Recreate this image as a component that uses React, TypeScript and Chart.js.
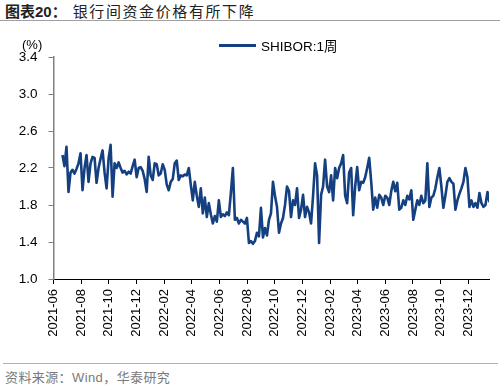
import React, { useEffect, useRef } from "react";
import { Chart, registerables } from "chart.js";

Chart.register(...registerables);

// x-axis tick labels (every two months)
const tickLabels = [
  "2021-06", "2021-08", "2021-10", "2021-12", "2022-02", "2022-04", "2022-06", "2022-08",
  "2022-10", "2022-12", "2023-02", "2023-04", "2023-06", "2023-08", "2023-10", "2023-12",
];
const yTicks = [1.0, 1.4, 1.8, 2.2, 2.6, 3.0, 3.4];

// observation dates: months after 2021-06-01 of the first value, and spacing in months
const firstObsMonth = 0.65;
const obsStepMonth = 0.145;

// SHIBOR 1-week (%)
const shibor1w = [
  2.34, 2.22, 2.43, 1.94, 2.15, 2.18, 2.14, 2.19, 2.25, 2.36,
  1.96, 2.2, 2.34, 2.05, 2.25, 2.32, 2.31, 2.04, 2.2, 2.3,
  2.39, 2.15, 1.98, 2.3, 2.45, 1.89, 2.25, 2.2, 2.26, 2.2,
  2.15, 2.17, 2.13, 2.16, 2.14, 2.22, 2.29, 2.1, 2.2, 2.21,
  2.17, 2.08, 1.94, 2.32, 2.12, 2.07, 2.25, 2.24, 2.12, 2.14,
  2.24, 2.18, 2.02, 1.96, 2.05, 2.08, 2.25, 2.28, 2.07, 2.12,
  2.11, 2.13, 2.12, 2.2, 2.02, 1.85, 2.05, 1.9, 1.78, 1.98,
  1.71, 1.88, 1.67, 1.82, 1.7, 1.6, 1.68, 1.62, 1.85, 1.67,
  1.7, 1.68, 1.72, 1.69, 1.93, 2.2, 1.64, 1.66, 1.6, 1.64,
  1.62, 1.6, 1.66, 1.39, 1.41, 1.38, 1.41, 1.5, 1.46, 1.77,
  1.45, 1.55, 1.47, 1.64, 1.71, 2.05, 1.9, 1.78, 1.5, 1.6,
  1.66, 1.8, 2.0, 1.95, 1.67, 1.85, 1.8, 1.98, 1.66, 1.75,
  1.91, 1.67, 1.78, 1.72, 1.6, 1.9, 2.25, 2.12, 1.39, 1.91,
  2.0, 2.29, 2.0, 1.94, 2.12, 1.85, 2.2, 2.09, 2.2, 2.25,
  2.34, 1.9, 1.82, 2.15, 2.2, 1.69, 2.0, 2.21, 1.96, 2.05,
  2.04, 2.1, 2.2, 2.31, 2.05, 1.75, 1.88, 1.77, 1.91, 1.88,
  1.8, 1.9, 1.88, 1.8, 1.95, 2.05, 1.95, 2.04, 1.75, 1.77,
  1.85, 1.8, 1.9, 1.86, 1.96, 1.64, 1.75, 1.85, 1.8, 1.9,
  1.82, 1.85, 2.25, 1.78, 1.88, 1.9, 1.98, 2.1, 2.2, 2.0,
  1.77, 1.9, 2.05, 2.09, 2.05, 2.03, 1.75, 1.85, 1.92, 1.98,
  2.05, 2.2, 2.1, 1.78, 1.85, 1.78, 1.82, 1.77, 1.93, 1.82,
  1.78, 1.8, 1.94, 1.83,
];

const seriesName = "SHIBOR:1周";
const lineColor = "#143F80";
const latin = "'Liberation Sans', Arial, sans-serif";
const cjk = "'Noto Sans CJK SC', 'Liberation Sans', sans-serif";

export default function App() {
  const ref = useRef<HTMLCanvasElement>(null);

  useEffect(() => {
    if (!ref.current) return;
    const points = shibor1w.map((v, i) => ({ x: firstObsMonth + i * obsStepMonth, y: v }));
    const chart = new Chart(ref.current, {
      type: "line",
      data: {
        datasets: [
          {
            label: seriesName,
            data: points,
            borderColor: lineColor,
            backgroundColor: lineColor,
            borderWidth: 2.6,
            pointRadius: 0,
            tension: 0,
            borderJoinStyle: "round",
          },
        ],
      },
      options: {
        animation: false,
        responsive: false,
        layout: { padding: { top: 57, left: 8, right: 11, bottom: 0 } },
        plugins: { legend: { display: false }, tooltip: { enabled: false } },
        scales: {
          x: {
            type: "linear",
            min: 0,
            max: 31.5,
            afterBuildTicks: (s: any) => {
              s.ticks = tickLabels.map((_, i) => ({ value: i * 2 }));
            },
            afterFit: (s: any) => {
              s.height = 81;
            },
            ticks: {
              autoSkip: false,
              minRotation: 90,
              maxRotation: 90,
              padding: 5,
              color: "#000",
              font: { family: latin, size: 13 },
              callback: (v: any) => tickLabels[Math.round(Number(v) / 2)] ?? "",
            },
            grid: { drawOnChartArea: false, drawTicks: true, tickLength: 5, color: "#000" },
            border: { color: "#000", width: 1 },
          },
          y: {
            min: 1.0,
            max: 3.4,
            afterBuildTicks: (s: any) => {
              s.ticks = yTicks.map((v) => ({ value: v }));
            },
            afterFit: (s: any) => {
              s.width = 45.5;
            },
            ticks: {
              padding: 11,
              color: "#000",
              font: { family: latin, size: 13.5 },
              callback: (v: any) => Number(v).toFixed(1),
            },
            grid: { drawOnChartArea: false, drawTicks: true, tickLength: 5, color: "#808080" },
            border: { color: "#808080", width: 1.5 },
          },
        },
      },
    });
    return () => chart.destroy();
  }, []);

  return (
    <div
      style={{
        position: "absolute",
        left: 0,
        top: 0,
        width: 500,
        height: 387,
        background: "#fff",
        overflow: "hidden",
      }}
    >
      <div
        style={{
          position: "absolute",
          left: 5,
          top: 1,
          fontSize: 15,
          lineHeight: "20px",
          color: "#222",
          fontFamily: cjk,
          whiteSpace: "nowrap",
        }}
      >
        <span style={{ fontWeight: 700 }}>
          图表<span style={{ fontFamily: latin }}>20</span>：
        </span>
        <span style={{ letterSpacing: 1.6, marginLeft: 6 }}>银行间资金价格有所下降</span>
      </div>
      <div style={{ position: "absolute", left: 0, top: 20, width: 500, height: 1, background: "#A0A0A0" }} />
      <canvas ref={ref} width={500} height={360} style={{ position: "absolute", left: 0, top: 0 }} />
      <div
        style={{
          position: "absolute",
          left: 22,
          top: 37,
          fontFamily: latin,
          fontSize: 13,
          lineHeight: "16px",
          color: "#000",
        }}
      >
        (%)
      </div>
      <div style={{ position: "absolute", left: 219, top: 44, width: 37, height: 2.6, background: lineColor }} />
      <div
        style={{
          position: "absolute",
          left: 261,
          top: 37,
          fontFamily: latin,
          fontSize: 13.5,
          lineHeight: "16px",
          color: "#000",
          whiteSpace: "nowrap",
        }}
      >
        SHIBOR:1<span style={{ fontFamily: cjk }}>周</span>
      </div>
      <div style={{ position: "absolute", left: 3, top: 363, width: 495, height: 1, background: "#A9B4C0" }} />
      <div
        style={{
          position: "absolute",
          left: 5,
          top: 368,
          fontFamily: cjk,
          fontSize: 13,
          lineHeight: "18px",
          color: "#7A7A7A",
          whiteSpace: "nowrap",
          letterSpacing: 0.4,
        }}
      >
        资料来源：<span style={{ fontFamily: latin }}>Wind</span>，华泰研究
      </div>
    </div>
  );
}
